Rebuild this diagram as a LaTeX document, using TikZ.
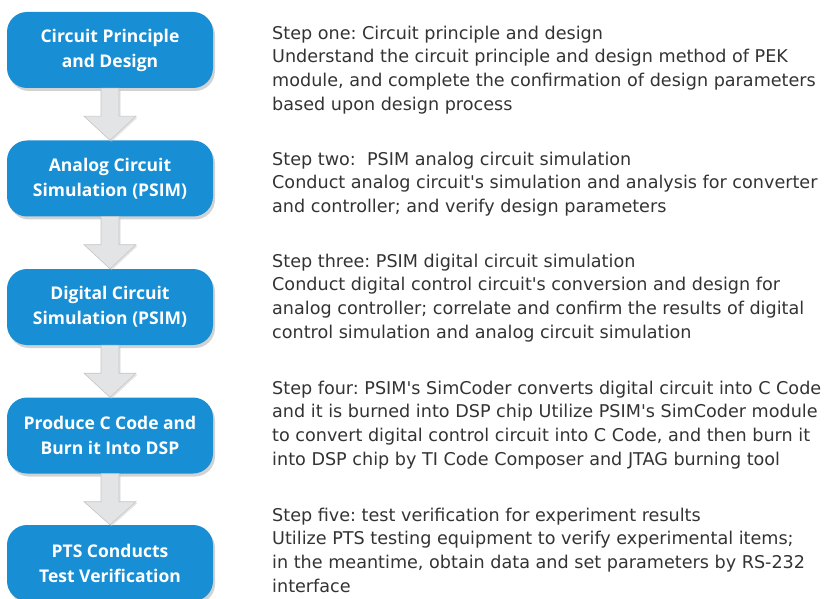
\documentclass[tikz,border=0pt]{standalone}
\usepackage{fontspec}
\setmainfont{Open Sans}
\newfontfamily\descfont{DejaVu Sans}
\usepackage{tikz}
\usetikzlibrary{calc}
\usetikzlibrary{positioning}
\usetikzlibrary{shadows}

\definecolor{stepblue}{RGB}{24,142,212}
\definecolor{arrowgray}{RGB}{226,228,230}

\begin{document}
\frenchspacing
\begin{tikzpicture}[
        x=1pt, y=-1pt,
        stepbox/.style={rectangle, rounded corners=20pt, fill=stepblue, draw=none,
            minimum width=206pt, minimum height=76pt, align=center,
            text=white, font=\fontsize{17.5}{25}\selectfont\bfseries,
            drop shadow={shadow xshift=2pt, shadow yshift=-3pt, fill=black!35, opacity=0.5}},
        flowarrow/.style={fill=arrowgray, draw=gray!45, line width=0.6pt, line join=miter,
            drop shadow={shadow xshift=1.5pt, shadow yshift=-1.5pt, fill=black!25, opacity=0.4}},
        desc/.style={anchor=north west, align=left, text=black!80, inner sep=0pt,
            font=\descfont\fontsize{17.6}{23.7}\selectfont}
    ]
        \useasboundingbox (0,0) rectangle (836,599);

        % 流程步骤方框
        \def\steps{
            1/{Circuit Principle\\and Design}/50,
            2/{Analog Circuit\\Simulation (PSIM)}/178.5,
            3/{Digital Circuit\\Simulation (PSIM)}/307,
            4/{Produce C Code and\\Burn it Into DSP}/435.5,
            5/{PTS Conducts\\Test Verification}/563
        }
        \foreach \i/\txt/\y in \steps {
            \node[stepbox] (step\i) at (110, \y) {\txt};
        }

        % 方框之间的下箭头
        \foreach \i/\j in {1/2, 2/3, 3/4, 4/5} {
            \draw[flowarrow]
                ($(step\i.south)+(-9,0)$) -- ($(step\i.south)+(-9,28)$)
                -- ($(step\i.south)+(-26,28)$) -- (step\j.north)
                -- ($(step\i.south)+(26,28)$) -- ($(step\i.south)+(9,28)$)
                -- ($(step\i.south)+(9,0)$) -- cycle;
        }

        % 右侧说明文字
        \node[desc] (desc1) at (272, 25.5) {Step one: Circuit principle and design\\
            Understand the circuit principle and design method of PEK\\
            module, and complete the confirmation of design parameters\\
            based upon design process};
        \node[desc] (desc2) at (272, 151.5) {Step two:\ \ PSIM analog circuit simulation\\
            Conduct analog circuit's simulation and analysis for converter\\
            and controller; and verify design parameters};
        \node[desc] (desc3) at (272, 253.5) {Step three: PSIM digital circuit simulation\\
            Conduct digital control circuit's conversion and design for\\
            analog controller; correlate and confirm the results of digital\\
            control simulation and analog circuit simulation};
        \node[desc] (desc4) at (272, 380.5) {Step four: PSIM's SimCoder converts digital circuit into C Code\\
            and it is burned into DSP chip Utilize PSIM's SimCoder module\\
            to convert digital control circuit into C Code, and then burn it\\
            into DSP chip by TI Code Composer and JTAG burning tool};
        \node[desc] (desc5) at (272, 507.5) {Step five: test verification for experiment results\\
            Utilize PTS testing equipment to verify experimental items;\\
            in the meantime, obtain data and set parameters by RS-232\\
            interface};
    \end{tikzpicture}
\end{document}
